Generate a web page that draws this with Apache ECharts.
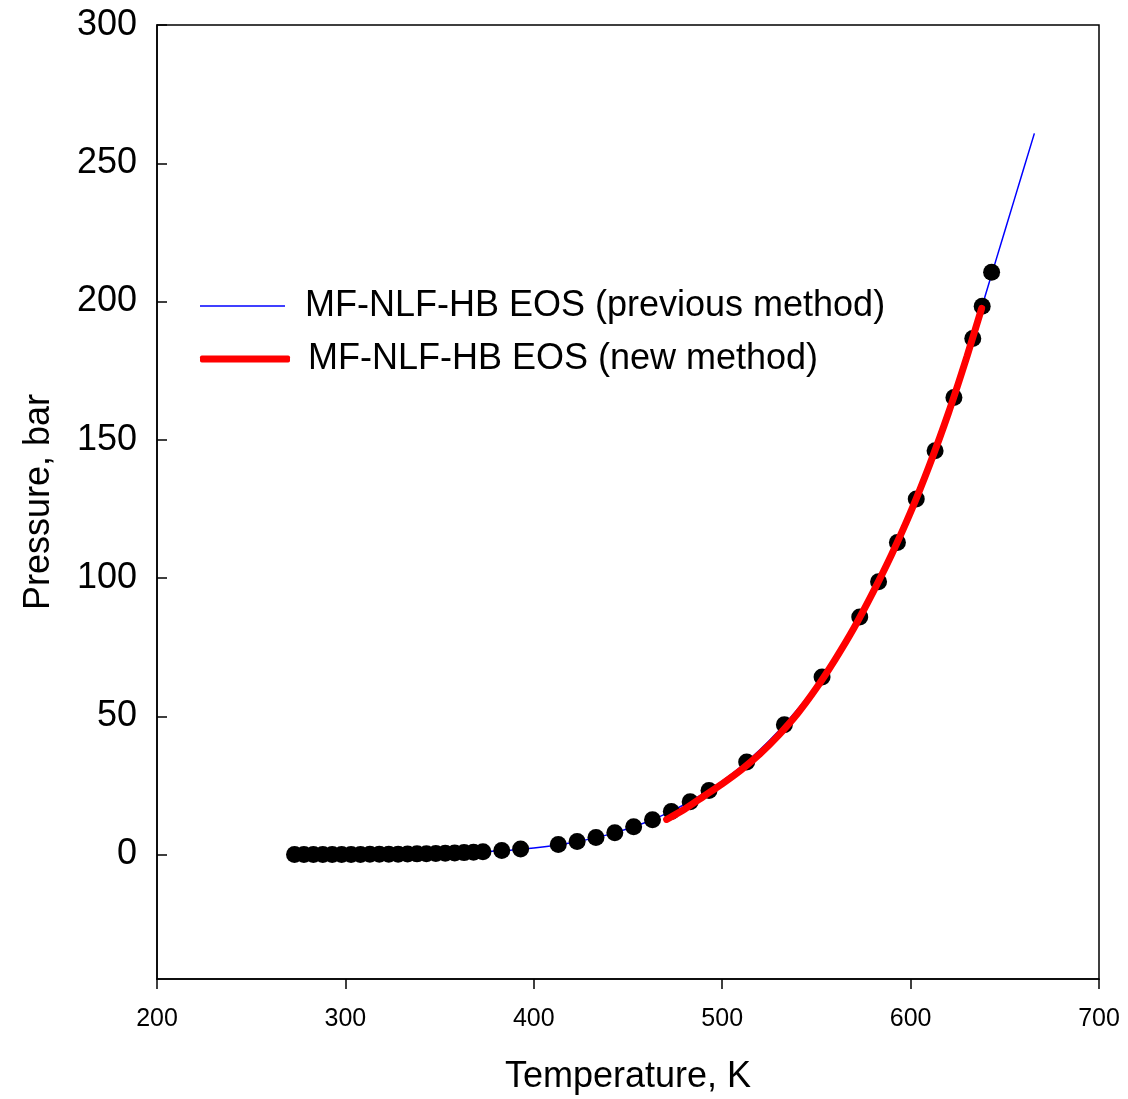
<!DOCTYPE html>
<html>
<head>
<meta charset="utf-8">
<script src="https://cdn.jsdelivr.net/npm/echarts@6/dist/echarts.min.js"></script>
<style>html,body{margin:0;padding:0;background:#fff}#c{width:1128px;height:1099px}</style>
</head>
<body>
<div id="c"></div>
<script>
// Experimental data (Temperature K, Pressure bar)
const expT = [273,278,283,288,293,298,303,308,313,318,323,328,333,338,343,348,353,358,363,368,373,383,393,413,423,433,443,453,463,473,483,493,513,533,553,573,583,593,603,613,623,633,638,643];
const expP = [0.006,0.009,0.012,0.017,0.023,0.032,0.042,0.056,0.074,0.096,0.124,0.158,0.199,0.250,0.312,0.386,0.474,0.579,0.702,0.846,1.014,1.43,1.99,3.61,4.76,6.18,7.92,10.03,12.55,15.54,19.06,23.18,33.47,46.92,64.19,85.88,98.65,112.84,128.58,146.0,165.29,186.66,198.3,210.6];
// Previous method curve
const prevT = [273,300,330,360,380,400,420,440,460,470,480,490,500,510,520,530,540,550,560,570,580,590,600,610,620,630,640,650,660,665.7];
const prevP = [0.006,0.035,0.17,0.62,1.25,2.4,4.3,7.3,11.8,14.7,18.1,22.0,26.6,31.8,37.9,44.8,52.6,61.2,71.0,81.8,94.2,108.4,124.0,140.8,159.5,180.0,203.0,225.5,248.0,260.8];
// New method curve
const newT = [470.5,480,490,500,510,520,530,540,550,560,570,580,590,600,610,620,630,637.7];
const newP = [12.7,16.4,21.0,25.6,30.6,36.4,43.2,51.0,60.2,70.6,82.0,94.8,108.6,123.8,140.8,159.5,180.3,197.5];
const yTicks = [0,50,100,150,200,250,300];
const xTicks = [200,300,400,500,600,700];
const nameA = 'MF-NLF-HB EOS (previous method)';
const nameB = 'MF-NLF-HB EOS (new method)';

const zip = (a,b) => a.map((v,i)=>[v,b[i]]);
const font = 'Liberation Sans, Arial, sans-serif';
const chart = echarts.init(document.getElementById('c'));
chart.setOption({
  animation:false,
  backgroundColor:'#fff',
  grid:{left:157,right:29,top:25,bottom:120,outerBoundsMode:'none',containLabel:false,
    show:true,borderColor:'#000',borderWidth:1.5,backgroundColor:'transparent'},
  legend:[
    {data:[{name:nameA,icon:'rect'}],left:200,top:288,padding:0,itemWidth:85,itemHeight:1.5,itemGap:0,
     textStyle:{fontFamily:font,fontSize:36,color:'#000',padding:[0,0,0,15]}},
    {data:[{name:nameB,icon:'roundRect'}],left:200,top:341,padding:0,itemWidth:90,itemHeight:7,itemGap:0,
     textStyle:{fontFamily:font,fontSize:36,color:'#000',padding:[0,0,0,13]}}
  ],
  xAxis:{type:'value',min:200,max:700,interval:100,
    name:'Temperature, K',nameLocation:'middle',nameGap:80,
    nameTextStyle:{fontFamily:font,fontSize:36,color:'#000'},
    axisLine:{onZero:false,lineStyle:{color:'#000',width:1.5}},
    axisTick:{show:true,inside:false,length:10,lineStyle:{color:'#000',width:1.5}},
    axisLabel:{fontFamily:font,fontSize:25,color:'#000',margin:28},
    splitLine:{show:false}},
  yAxis:{type:'value',min:-45,max:300,
    name:'Pressure, bar',nameLocation:'middle',nameGap:100,
    nameTextStyle:{fontFamily:font,fontSize:36,color:'#000'},
    axisLine:{show:true,onZero:false,lineStyle:{color:'#000',width:1.5}},
    axisTick:{show:true,inside:true,length:10,customValues:yTicks,lineStyle:{color:'#000',width:1.5}},
    axisLabel:{fontFamily:font,fontSize:36,color:'#000',margin:20,padding:[4,0,0,0],customValues:yTicks},
    splitLine:{show:false}},
  series:[
    {name:nameA,type:'line',data:zip(prevT,prevP),smooth:0.2,showSymbol:false,symbol:'none',
     lineStyle:{color:'#0000ff',width:1.5},itemStyle:{color:'#0000ff'},z:2},
    {name:'exp',type:'scatter',data:zip(expT,expP),symbol:'circle',symbolSize:17,
     itemStyle:{color:'#000',opacity:1},z:3},
    {name:nameB,type:'line',data:zip(newT,newP),smooth:0.2,showSymbol:false,symbol:'none',
     lineStyle:{color:'#ff0000',width:7,cap:'round'},itemStyle:{color:'#ff0000'},z:4}
  ]
});
</script>
</body>
</html>
